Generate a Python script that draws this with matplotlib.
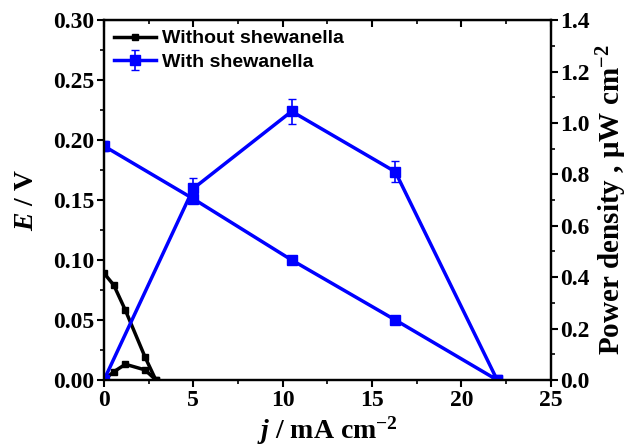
import matplotlib.pyplot as plt
from matplotlib.ticker import MultipleLocator

plt.rcParams["mathtext.fontset"] = "custom"
plt.rcParams["mathtext.rm"] = "Liberation Serif:bold"
plt.rcParams["mathtext.bf"] = "Liberation Serif:bold"
plt.rcParams["mathtext.it"] = "Liberation Serif:bold:italic"
plt.rcParams["mathtext.default"] = "rm"

# data
j_without = [0.0, 0.55, 1.2, 2.3, 2.9]
e_without = [0.089, 0.079, 0.058, 0.019, 0.0]
p_without = [0.0, 0.032, 0.061, 0.039, 0.0]

j_with = [0.0, 5.0, 10.5, 16.3, 22.0]
e_with = [0.195, 0.151, 0.100, 0.050, 0.0]
e_with_err = [0.004, 0.003, 0.003, 0.002, 0.0]
p_with = [0.0, 0.745, 1.045, 0.81, 0.0]
p_with_err = [0.0, 0.04, 0.05, 0.04, 0.0]

x_ticks = [0, 5, 10, 15, 20, 25]
e_ticks = [0.00, 0.05, 0.10, 0.15, 0.20, 0.25, 0.30]
p_ticks = [0.0, 0.2, 0.4, 0.6, 0.8, 1.0, 1.2, 1.4]

serif = "Liberation Serif"
sans = "Liberation Sans"

fig = plt.figure(figsize=(6.28, 4.47), dpi=100)
ax = fig.add_axes([0.1656, 0.150, 0.7114, 0.805])
ax2 = ax.twinx()

black_kw = dict(color="black", lw=2.5, marker="s", ms=4)
blue_kw = dict(color="#0000ff", lw=2.5, marker="s", ms=6.5)

ax.plot(j_without, e_without, label="Without shewanella", **black_kw)
ax2.plot(j_without, p_without, **black_kw)
ax.errorbar(j_with, e_with, yerr=e_with_err, capsize=3, elinewidth=1.2,
            label="With shewanella", **blue_kw)
ax2.errorbar(j_with, p_with, yerr=p_with_err, capsize=3, elinewidth=1.2, **blue_kw)

tick_font = dict(fontfamily=serif, fontweight="bold", fontsize=17)
ax.set_xticks(x_ticks)
ax.set_xticklabels([f"{v:g}" for v in x_ticks], **tick_font)
ax.set_yticks(e_ticks)
ax.set_yticklabels([f"{v:.2f}" for v in e_ticks], **tick_font)
ax2.set_yticks(p_ticks)
ax2.set_yticklabels([f"{v:.1f}" for v in p_ticks], **tick_font)
ax.xaxis.set_minor_locator(MultipleLocator(2.5))
ax.yaxis.set_minor_locator(MultipleLocator(0.025))
ax2.yaxis.set_minor_locator(MultipleLocator(0.1))
ax.set_xlim(0, 25)
ax.set_ylim(0, 0.30)
ax2.set_ylim(0, 1.4)

for a in (ax, ax2):
    for s in a.spines.values():
        s.set_linewidth(1.6)
    a.tick_params(which="major", direction="out", length=5, width=1.5, pad=2)
    a.tick_params(which="minor", direction="out", length=3, width=1.2)
top = ax.secondary_xaxis("top")
top.set_xticks(x_ticks)
top.xaxis.set_minor_locator(MultipleLocator(2.5))
top.tick_params(which="both", direction="in", labeltop=False, length=5, width=1.5)
top.tick_params(which="minor", length=3, width=1.2)

lab_kw = dict(fontfamily=serif, fontweight="bold", fontsize=20)
ax.set_xlabel(r"$\it{j}$ / mA cm$^{-2}$", labelpad=3, **lab_kw)
ax.set_ylabel(r"$\it{E}$ / V", labelpad=10, **lab_kw)
ax2.set_ylabel("Power density , \u03bcW cm$^{-2}$", labelpad=3,
               fontfamily=serif, fontweight="bold", fontsize=21)

ax.legend(loc="upper left", frameon=False, prop=dict(family=sans, weight="bold", size=14),
          handlelength=2.2, borderaxespad=0.1, labelspacing=0.3, handletextpad=0.3)

fig.savefig("out.png", dpi=100)
